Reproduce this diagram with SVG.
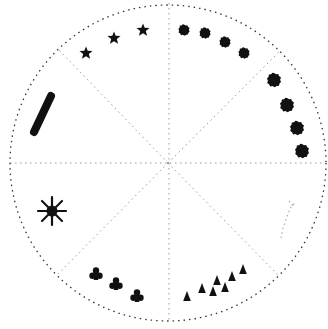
<svg xmlns="http://www.w3.org/2000/svg" width="328" height="329" viewBox="0 0 328 329">
<style>
.rim{fill:none;stroke:#333;stroke-width:1.3;stroke-dasharray:1.5 4}
.div{stroke:#9a9a9a;stroke-width:1;stroke-dasharray:1.5 3.5;fill:none}
.ink{fill:#111}
.faint{fill:none;stroke:#aaa;stroke-width:1.2;stroke-dasharray:1.5 3}
</style>
<defs>
<polygon id="star" points="0,-6.5 1.7,-2.2 6.5,-2 2.8,1.1 4.1,5.8 0,3.2 -4.1,5.8 -2.8,1.1 -6.5,-2 -1.7,-2.2"/>
<polygon id="blob" points="0,-5.6 1.6,-4.6 3.4,-4.8 4,-3.2 5.6,-2 4.9,-0.2 5.6,1.6 4.3,3 4,4.6 2.2,4.7 0.6,5.8 -1.2,4.8 -3,5.2 -3.8,3.6 -5.4,2.4 -4.9,0.6 -5.6,-1.2 -4.3,-2.6 -4.2,-4.4 -2.4,-4.6 -1.2,-5.8"/>
<polygon id="bigblob" points="0,-7 2,-5.8 4.2,-6 5,-4 7,-2.5 6.1,-0.2 7,2 5.4,3.8 5,5.8 2.7,5.9 0.7,7.2 -1.5,6 -3.8,6.5 -4.8,4.5 -6.8,3 -6.1,0.7 -7,-1.5 -5.4,-3.2 -5.2,-5.5 -3,-5.8 -1.5,-7.2"/>
<g id="club"><circle cx="0" cy="-3.5" r="3.2"/><circle cx="-3.5" cy="1.8" r="3.2"/><circle cx="3.5" cy="1.8" r="3.2"/><circle cx="0" cy="0" r="2.6"/><polygon points="-1.2,2 1.2,2 2.4,6 -2.4,6"/></g>
<polygon id="cone" points="0,-6 3.8,4 -3.8,4"/>
</defs>
<g id="connectors">
<line class="div" x1="10" y1="163" x2="325" y2="163"/>
<line class="div" x1="169" y1="3" x2="169" y2="323"/>
<line class="div" x1="168" y1="163" x2="58" y2="49"/>
<line class="div" x1="168" y1="163" x2="279" y2="52"/>
<line class="div" x1="168" y1="163" x2="279" y2="276"/>
<line class="div" x1="168" y1="163" x2="58" y2="274"/>
</g>
<g id="rim"><circle class="rim" cx="168" cy="163" r="158"/></g>
<g id="stars" class="ink">
<use href="#star" x="86" y="53"/>
<use href="#star" x="114" y="38"/>
<use href="#star" x="143" y="30"/>
</g>
<g id="bar"><line x1="34" y1="132" x2="51" y2="96" stroke="#111" stroke-width="8" stroke-linecap="round"/></g>
<g id="small-blobs" class="ink">
<use href="#blob" x="184" y="30"/>
<use href="#blob" x="205" y="33"/>
<use href="#blob" x="225" y="42"/>
<use href="#blob" x="244" y="53"/>
</g>
<g id="large-blobs" class="ink">
<use href="#bigblob" x="274" y="80"/>
<use href="#bigblob" x="287" y="105"/>
<use href="#bigblob" x="297" y="128"/>
<use href="#bigblob" x="302" y="151"/>
</g>
<g id="asterisk" stroke="#111" stroke-width="2.2" stroke-linecap="round">
<line x1="52" y1="197" x2="52" y2="225"/>
<line x1="38" y1="211" x2="66" y2="211"/>
<line x1="42" y1="201" x2="62" y2="221"/>
<line x1="62" y1="201" x2="42" y2="221"/>
<circle cx="52" cy="211" r="5.5" fill="#111" stroke="none"/>
</g>
<g id="clubs" class="ink">
<use href="#club" x="96" y="274"/>
<use href="#club" x="116" y="284"/>
<use href="#club" x="137" y="296"/>
</g>
<g id="cones" class="ink">
<use href="#cone" x="187" y="297"/>
<use href="#cone" x="202" y="289"/>
<use href="#cone" x="213" y="292"/>
<use href="#cone" x="217" y="281"/>
<use href="#cone" x="225" y="288"/>
<use href="#cone" x="232" y="277"/>
<use href="#cone" x="243" y="270"/>
</g>
<g id="faint-mark"><path class="faint" d="M281,238 L283,228 L288,214 L292,205 L297,203 M289,201 L294,207"/></g>
</svg>
